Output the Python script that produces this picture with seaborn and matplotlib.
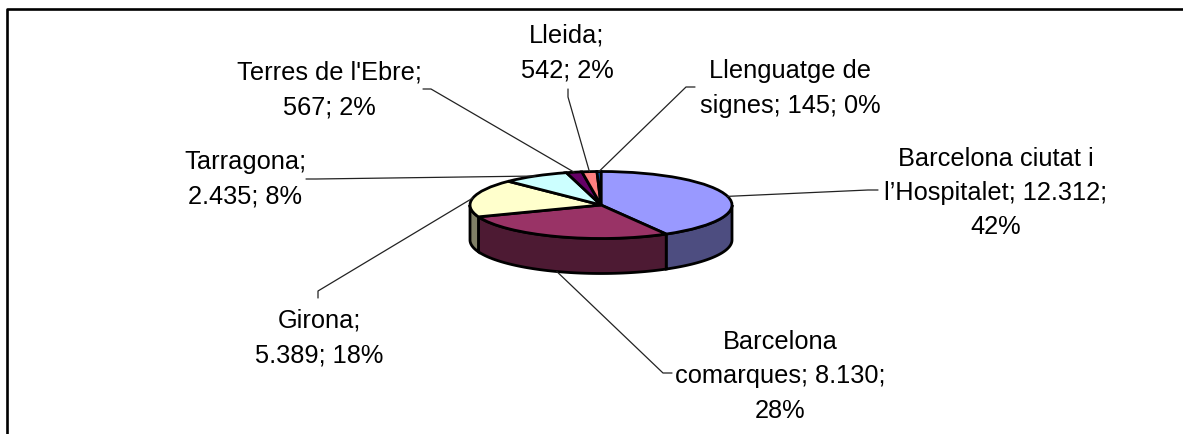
import numpy as np
import seaborn as sns
import matplotlib
matplotlib.use("Agg")
import matplotlib.pyplot as plt
from matplotlib.lines import Line2D

# --- Data ---
regions = ["Barcelona ciutat i l'Hospitalet", "Barcelona comarques", "Girona", "Tarragona",
           "Terres de l'Ebre", "Lleida", "Llenguatge de signes"]
values = [12312, 8130, 5389, 2435, 567, 542, 145]
label_texts = [
    "Barcelona ciutat i\nl’Hospitalet; 12.312;\n42%",
    "Barcelona\ncomarques; 8.130;\n28%",
    "Girona;\n5.389; 18%",
    "Tarragona;\n2.435; 8%",
    "Terres de l'Ebre;\n567; 2%",
    "Lleida;\n542; 2%",
    "Llenguatge de\nsignes; 145; 0%",
]
top_colors = ["#9999FF", "#993366", "#FFFFCC", "#CCFFFF", "#660066", "#FF8080", "#0066CC"]
side_colors = ["#4D4D80", "#4D1A33", "#808066", "#668080", "#330033", "#804040", "#003366"]

# --- Layout (pixels of the 1183x435 image) ---
W, H = 1183, 435
cx, cy, rx, ry, depth = 601, 206, 131, 33.5, 35
label_pos = [(996, 193), (780, 376.5), (319, 338), (245, 179), (329, 90), (567, 53), (790, 88.5)]
label_start = [(878, 191), (672, 374), (318, 299), (306, 180), (423, 90), (568, 90), (695, 88)]
label_elbow = [(868, 191), (663, 374), (318, 292), (316, 180), (431, 90), (568, 98), (686, 88)]

sns.set_theme(style="white")
plt.rcParams["font.family"] = ["Liberation Sans", "DejaVu Sans"]

fig = plt.figure(figsize=(W / 100, H / 100), dpi=100, facecolor="white")
ax = fig.add_axes([0, 0, 1, 1])
palette = sns.color_palette(top_colors)
drop = depth / ry

# side wall first, the lower half of the ellipse only
fractions = np.array(values) / sum(values)
edges = 90 - 360 * np.concatenate([[0], np.cumsum(fractions)])
for i in range(len(values)):
    a0, a1 = edges[i + 1], edges[i]
    for shift in (-360, 0):
        lo, hi = max(a0 + shift, -180), min(a1 + shift, 0)
        if lo >= hi:
            continue
        t = np.radians(np.linspace(lo, hi, 60))
        xs = np.concatenate([np.cos(t), np.cos(t[::-1])])
        ys = np.concatenate([np.sin(t), np.sin(t[::-1]) - drop])
        ax.fill(xs, ys, facecolor=side_colors[i], edgecolor="black", linewidth=2, zorder=1)

ax.pie(values, colors=palette, startangle=90, counterclock=False, radius=1,
       wedgeprops={"edgecolor": "black", "linewidth": 2, "zorder": 2})

ax.set_aspect("auto")
ax.set_xlim((0 - cx) / rx, (W - cx) / rx)
ax.set_ylim((cy - H) / ry, (cy - 0) / ry)
ax.axis("off")

# --- Labels and leader lines ---
mids = np.radians((edges[:-1] + edges[1:]) / 2)
for i, txt in enumerate(label_texts):
    ex = cx + rx * np.cos(mids[i])
    ey = cy - ry * np.sin(mids[i])
    if np.sin(mids[i]) < 0:
        ey += depth
    sx, sy = label_start[i]
    mx, my = label_elbow[i]
    fig.add_artist(Line2D([sx / W, mx / W, ex / W], [1 - sy / H, 1 - my / H, 1 - ey / H],
                          color="#222222", lw=0.9, zorder=3))
    lx, ly = label_pos[i]
    fig.text(lx / W, 1 - ly / H, txt, ha="center", va="center", fontsize=18.3,
             color="black", linespacing=1.55)

# chart area border, open on the right and cut at the bottom of the image
bx = [7 / W, 7 / W, 1]
by = [0, 1 - 10 / H, 1 - 10 / H]
fig.add_artist(Line2D(bx, by, color="black", lw=1.9))

fig.savefig("out.png", dpi=100)
